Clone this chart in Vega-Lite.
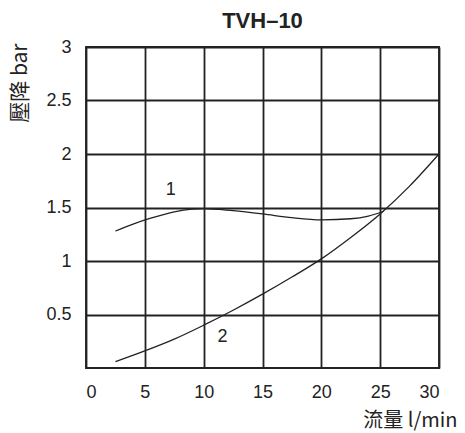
{
  "$schema": "https://vega.github.io/schema/vega-lite/v6.json",
  "autosize": "none",
  "width": 353,
  "height": 321,
  "padding": {"left": 86, "top": 47, "right": 26, "bottom": 65},
  "background": "white",
  "title": {"text": "TVH–10", "fontSize": 22, "font": "Liberation Sans", "fontWeight": "bold", "color": "#222", "offset": 5, "anchor": "middle"},
  "config": {
    "view": {"stroke": "#222", "strokeWidth": 1.8},
    "axis": {"gridColor": "#222", "gridWidth": 1.8, "gridOpacity": 1, "ticks": false, "domain": false}
  },
  "datasets": {
    "curves": [
      {"q": 2.5, "p": 1.28, "c": "1"}, {"q": 4, "p": 1.345, "c": "1"}, {"q": 5.5, "p": 1.40, "c": "1"}, {"q": 7.5, "p": 1.46, "c": "1"}, {"q": 9, "p": 1.485, "c": "1"}, {"q": 10, "p": 1.49, "c": "1"}, {"q": 12.5, "p": 1.47, "c": "1"}, {"q": 15, "p": 1.44, "c": "1"}, {"q": 17.5, "p": 1.405, "c": "1"}, {"q": 20, "p": 1.385, "c": "1"}, {"q": 22.5, "p": 1.395, "c": "1"}, {"q": 24, "p": 1.42, "c": "1"}, {"q": 25.3, "p": 1.465, "c": "1"},
      {"q": 2.5, "p": 0.06, "c": "2"}, {"q": 5, "p": 0.16, "c": "2"}, {"q": 7.5, "p": 0.27, "c": "2"}, {"q": 10, "p": 0.40, "c": "2"}, {"q": 12.5, "p": 0.54, "c": "2"}, {"q": 15, "p": 0.69, "c": "2"}, {"q": 17.5, "p": 0.85, "c": "2"}, {"q": 20, "p": 1.02, "c": "2"}, {"q": 22.5, "p": 1.22, "c": "2"}, {"q": 25, "p": 1.44, "c": "2"}, {"q": 27.5, "p": 1.70, "c": "2"}, {"q": 30, "p": 2.0, "c": "2"}
    ],
    "labels": [
      {"q": 7.2, "p": 1.66, "t": "1"},
      {"q": 11.6, "p": 0.29, "t": "2"}
    ]
  },
  "layer": [
    {
      "data": {"name": "curves"},
      "mark": {"type": "line", "interpolate": "monotone", "color": "#222", "strokeWidth": 1.3},
      "encoding": {
        "x": {"field": "q", "type": "quantitative", "scale": {"domain": [0, 30], "nice": false}, "axis": {"values": [0, 5, 10, 15, 20, 25, 30], "labelPadding": 15, "labelFont": "Liberation Sans", "labelFontSize": 18, "labelColor": "#222", "title": "流量 l/min", "titleFont": "Noto Sans CJK TC", "titleFontSize": 20, "titleFontWeight": "normal", "titleColor": "#222", "titleAlign": "right", "titleBaseline": "middle", "titleX": 371, "titleY": 52, "grid": true}},
        "y": {"field": "p", "type": "quantitative", "scale": {"domain": [0, 3], "nice": false}, "axis": {"values": [0.5, 1, 1.5, 2, 2.5, 3], "format": "~g", "gridValues": [0, 0.5, 1, 1.5, 2, 2.5, 3], "labelPadding": 15, "labelFont": "Liberation Sans", "labelFontSize": 18, "labelColor": "#222", "title": "壓降 bar", "titleFont": "Noto Sans CJK TC", "titleFontSize": 21, "titleFontWeight": "normal", "titleColor": "#222", "titleAngle": 270, "titleAlign": "right", "titleBaseline": "middle", "titleX": -66, "titleY": -4, "grid": true}},
        "detail": {"field": "c"}
      }
    },
    {
      "data": {"name": "labels"},
      "mark": {"type": "text", "font": "Liberation Sans", "fontSize": 18, "color": "#222"},
      "encoding": {
        "x": {"field": "q", "type": "quantitative"},
        "y": {"field": "p", "type": "quantitative"},
        "text": {"field": "t"}
      }
    }
  ]
}
